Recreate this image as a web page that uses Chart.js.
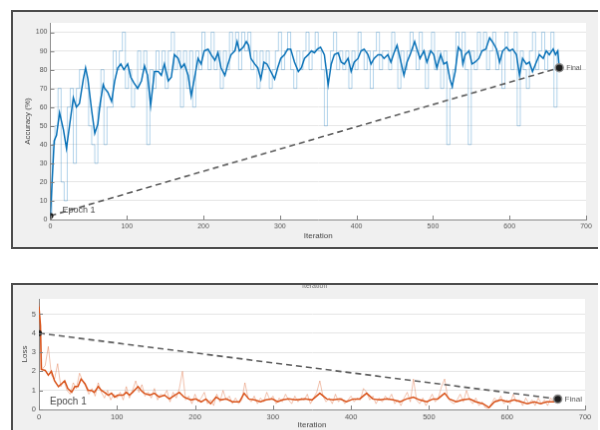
<!DOCTYPE html>
<html>
<head>
<meta charset="utf-8">
<script src="https://cdn.jsdelivr.net/npm/chart.js@4.4.0/dist/chart.umd.min.js"></script>
<style>
  html, body { margin: 0; padding: 0; background: #fff; width: 600px; height: 430px; overflow: hidden; }
  canvas { position: absolute; background: #f0f0f0; border-style: solid; border-color: #4d4d4d; }
  #accChart { left: 11px; top: 10px; border-width: 2px 0 2px 2px; }
  #lossChart { left: 11px; top: 283px; border-width: 2px 0 0 2px; }
</style>
</head>
<body>
<canvas id="accChart" width="587" height="239"></canvas>
<canvas id="lossChart" width="587" height="160"></canvas>
<script>
const FONT = "'Liberation Sans', Arial, sans-serif";

// raw mini-batch values, one every rawStep iterations
const rawStep = 4;
const iterTicks = [0, 100, 200, 300, 400, 500, 600, 700];
const endIters = [0, 665];

// accuracy (%)
const accRaw = [
  2, 40, 50, 70, 20, 10, 60, 70, 30, 70,
  80, 80, 70, 50, 40, 30, 60, 80, 40, 60,
  60, 90, 80, 90, 100, 70, 80, 60, 70, 90,
  80, 90, 40, 80, 70, 90, 80, 90, 70, 90,
  100, 80, 90, 60, 90, 70, 90, 60, 90, 80,
  100, 90, 80, 100, 80, 90, 70, 90, 80, 100,
  90, 100, 80, 100, 90, 100, 80, 90, 70, 90,
  80, 90, 70, 80, 90, 100, 80, 90, 100, 80,
  70, 90, 80, 90, 100, 80, 90, 100, 90, 80,
  50, 80, 90, 100, 80, 90, 80, 90, 70, 90,
  80, 100, 90, 80, 90, 70, 90, 100, 80, 90,
  90, 80, 100, 90, 70, 90, 80, 90, 100, 90,
  80, 100, 90, 70, 90, 100, 80, 90, 70, 90,
  40, 70, 80, 100, 90, 100, 80, 40, 90, 80,
  100, 90, 100, 80, 90, 100, 80, 90, 70, 100,
  90, 80, 100, 50, 90, 80, 70, 90, 100, 80,
  90, 100, 80, 90, 100, 60, 90
];
const accSmoothIter = [
  0, 5, 8, 12, 17, 21, 25, 30, 34, 38, 43, 46, 49, 54, 58, 62, 65, 69, 71, 75,
  80, 84, 88, 92, 96, 101, 105, 109, 114, 119, 123, 127, 131, 136, 141, 145, 149, 154, 158, 162,
  167, 171, 175, 180, 184, 188, 193, 197, 201, 206, 210, 215, 219, 223, 228, 232, 236, 241, 244, 247,
  252, 256, 259, 262, 267, 271, 275, 279, 283, 288, 293, 297, 301, 306, 310, 314, 319, 324, 328, 332,
  337, 341, 345, 349, 353, 358, 363, 367, 371, 376, 380, 384, 389, 393, 397, 402, 406, 410, 415, 419,
  423, 428, 432, 436, 441, 445, 449, 453, 457, 462, 466, 470, 476, 479, 483, 488, 492, 497, 501, 505,
  510, 514, 518, 522, 525, 529, 533, 537, 539, 542, 547, 551, 555, 560, 564, 569, 574, 579, 583, 587,
  591, 596, 600, 604, 609, 613, 617, 622, 626, 630, 635, 639, 644, 648, 652, 657, 660, 663, 665
];
const accSmooth = [
  2, 42, 45, 57, 48, 38, 50, 65, 60, 62, 75, 81, 75, 58, 46, 51, 62, 72, 70, 68,
  63, 74, 81, 83, 80, 83, 76, 73, 70, 74, 82, 77, 61, 79, 79, 77, 83, 74, 76, 88,
  86, 81, 83, 77, 66, 75, 86, 83, 90, 91, 88, 85, 89, 81, 77, 83, 88, 90, 95, 90,
  92, 95, 93, 86, 83, 81, 75, 84, 83, 79, 75, 81, 86, 88, 91, 91, 84, 79, 81, 86,
  88, 90, 89, 91, 92, 88, 72, 83, 88, 89, 84, 83, 86, 79, 84, 86, 90, 91, 88, 83,
  86, 88, 88, 86, 88, 84, 89, 93, 86, 77, 84, 88, 95, 91, 86, 90, 84, 90, 88, 81,
  88, 83, 84, 75, 71, 79, 92, 90, 83, 88, 90, 83, 84, 86, 90, 91, 97, 94, 91, 84,
  90, 92, 90, 91, 88, 77, 86, 83, 84, 79, 84, 88, 86, 90, 88, 91, 88, 90, 81
];
const accEnds = [2, 81];
const accTicks = [0, 10, 20, 30, 40, 50, 60, 70, 80, 90, 100];

// loss
const lossRaw = [
  5.6, 2.1, 2.3, 3.3, 1.8, 1.6, 2.4, 1.2, 1.5, 1.0,
  0.8, 1.4, 1.1, 1.9, 1.5, 1.2, 0.8, 1.1, 0.7, 1.4,
  0.9, 0.6, 1.0, 0.5, 0.8, 0.6, 0.9, 0.5, 1.2, 0.6,
  1.0, 1.5, 0.9, 1.3, 0.7, 0.9, 0.6, 1.1, 0.5, 0.8,
  0.7, 1.0, 0.4, 0.9, 0.6, 1.1, 2.0, 0.5, 0.7, 0.3,
  0.8, 0.4, 0.6, 0.9, 0.3, 0.5, 0.2, 0.8, 0.4, 1.0,
  0.5, 0.7, 0.3, 0.6, 0.3, 0.5, 1.4, 0.6, 0.4, 0.7,
  0.3, 0.6, 0.4, 0.9, 0.5, 0.7, 0.3, 0.6, 0.4, 0.8,
  0.5, 0.3, 0.7, 0.4, 0.6, 0.5, 0.8, 0.3, 0.6, 0.9,
  1.5, 0.7, 0.4, 0.6, 0.3, 0.8, 0.4, 0.6, 0.3, 0.5,
  0.7, 0.4, 0.6, 0.5, 1.1, 0.9, 0.5, 0.7, 0.3, 0.6,
  0.4, 0.7, 0.5, 0.8, 0.3, 0.5, 0.2, 0.6, 0.9, 0.4,
  1.6, 0.5, 0.3, 0.6, 0.2, 0.5, 0.8, 0.4, 0.6, 1.2,
  1.6, 0.6, 0.4, 0.3, 0.5, 0.8, 0.4, 1.0, 0.5, 0.3,
  0.6, 0.2, 0.4, 0.1, 0.05, 0.3, 0.6, 0.4, 0.7, 0.3,
  0.5, 0.3, 0.8, 0.4, 0.5, 0.2, 0.6, 0.3, 0.5, 0.2,
  0.6, 0.3, 0.5, 0.2, 0.6, 0.4, 0.5
];
const lossSmoothIter = [
  0, 2, 3, 8, 12, 16, 20, 25, 29, 33, 37, 42, 46, 50, 54, 59, 63, 67, 71, 76,
  80, 84, 89, 93, 97, 101, 108, 112, 116, 120, 127, 131, 135, 142, 148, 154, 161, 167, 174, 180,
  186, 195, 201, 208, 214, 220, 227, 233, 240, 248, 257, 263, 269, 276, 284, 291, 299, 306, 312, 320,
  329, 341, 350, 360, 369, 377, 386, 394, 403, 411, 420, 428, 437, 446, 454, 463, 471, 480, 488, 497,
  505, 511, 520, 526, 535, 543, 552, 560, 569, 577, 584, 592, 601, 609, 618, 626, 635, 643, 651, 660, 665
];
const lossSmooth = [
  5.4, 4.4, 2.1, 2.05, 1.8, 2.0, 1.5, 1.2, 1.35, 1.5, 1.1, 0.9, 1.2, 1.2, 1.6, 1.35, 1.0, 1.0, 0.9, 1.2,
  1.0, 0.9, 0.75, 0.85, 0.65, 0.75, 0.75, 0.9, 0.75, 0.9, 1.2, 1.0, 0.85, 0.75, 0.85, 0.65, 0.75, 0.55, 0.75, 0.9,
  0.65, 0.5, 0.55, 0.4, 0.55, 0.3, 0.65, 0.5, 0.55, 0.4, 0.4, 0.85, 0.55, 0.5, 0.4, 0.5, 0.55, 0.4, 0.5, 0.55,
  0.5, 0.55, 0.5, 0.85, 0.55, 0.5, 0.55, 0.4, 0.55, 0.55, 0.85, 0.55, 0.5, 0.55, 0.5, 0.4, 0.55, 0.65, 0.5, 0.4,
  0.55, 0.55, 0.85, 0.55, 0.4, 0.5, 0.55, 0.4, 0.3, 0.1, 0.4, 0.5, 0.4, 0.5, 0.4, 0.3, 0.4, 0.3, 0.4, 0.4, 0.55
];
const lossEnds = [4.0, 0.55];
const lossTicks = [0, 1, 2, 3, 4, 5];

// white plot area, inward tick marks and the text notes
const panelPlugin = {
  id: 'panel',
  beforeDraw(chart) {
    const { ctx, chartArea: a } = chart;
    ctx.save();
    ctx.fillStyle = '#ffffff';
    ctx.fillRect(a.left, a.top, a.right - a.left, a.bottom - a.top);
    ctx.restore();
  },
  afterDraw(chart, args, opts) {
    const { ctx, chartArea: a, scales: { x, y } } = chart;
    ctx.save();
    ctx.strokeStyle = '#808080';
    ctx.lineWidth = 1;
    ctx.beginPath();
    x.ticks.forEach(t => {
      const px = Math.round(x.getPixelForValue(t.value)) + 0.5;
      ctx.moveTo(px, a.bottom);
      ctx.lineTo(px, a.bottom - 4);
    });
    y.ticks.forEach(t => {
      const py = Math.round(y.getPixelForValue(t.value)) + 0.5;
      ctx.moveTo(a.left, py);
      ctx.lineTo(a.left + 4, py);
    });
    ctx.stroke();

    const ends = chart.data.datasets[2].data;
    const last = ends[ends.length - 1];
    ctx.fillStyle = '#4a4a4a';
    ctx.textBaseline = 'bottom';
    ctx.font = opts.epochSize + 'px ' + FONT;
    ctx.fillText('Epoch 1', x.getPixelForValue(0) + opts.epochDx, a.bottom - opts.epochDy);
    ctx.fillStyle = '#555';
    ctx.textBaseline = 'middle';
    ctx.font = opts.finalSize + 'px ' + FONT;
    ctx.fillText('Final', x.getPixelForValue(last.x) + 7, y.getPixelForValue(last.y));
    if (opts.topNote) {
      ctx.fillStyle = '#777';
      ctx.font = '7px ' + FONT;
      ctx.fillText('Iteration', 290, 1);
    }
    ctx.restore();
  }
};

function makeChart(id, o) {
  const axisTitle = (text, size, pad) => ({
    display: true, text: text, color: '#444', padding: pad,
    font: { family: FONT, size: size }
  });
  return new Chart(document.getElementById(id), {
    type: 'line',
    data: {
      datasets: [
        {
          data: o.raw.map((v, i) => ({ x: i * rawStep, y: v })),
          borderColor: o.light, borderWidth: 1, pointRadius: 0, order: 3,
          stepped: o.rawStepped
        },
        {
          data: o.smoothIter.map((it, i) => ({ x: it, y: o.smooth[i] })),
          borderColor: o.dark, borderWidth: 1.5, pointRadius: 0, order: 2
        },
        {
          data: endIters.map((it, i) => ({ x: it, y: o.ends[i] })),
          borderColor: '#5c5c5c', borderWidth: 1.6, borderDash: [6, 4],
          pointRadius: [3, 4], pointBackgroundColor: '#1e1e1e',
          pointBorderColor: ['#1e1e1e', '#8c8c8c'], pointBorderWidth: [0, 1.5],
          order: 1
        }
      ]
    },
    options: {
      responsive: false,
      animation: false,
      events: [],
      layout: { padding: o.pad },
      plugins: {
        legend: { display: false },
        tooltip: { enabled: false },
        panel: o.notes
      },
      scales: {
        x: {
          type: 'linear', min: 0, max: 700,
          afterBuildTicks: s => { s.ticks = iterTicks.map(v => ({ value: v })); },
          afterFit: s => { s.height = o.xH; },
          grid: { display: false, drawTicks: false },
          border: { color: '#8a8a8a' },
          ticks: { font: { family: FONT, size: o.tick }, color: '#555', padding: 3, maxRotation: 0 },
          title: axisTitle('Iteration', 8, { top: 0, bottom: o.xTitlePad })
        },
        y: {
          type: 'linear', min: 0, max: o.yMax,
          afterBuildTicks: s => { s.ticks = o.yTicks.map(v => ({ value: v })); },
          afterFit: s => { s.width = o.yW; },
          grid: { color: '#e6e6e6', drawTicks: false },
          border: { color: '#8a8a8a' },
          ticks: { font: { family: FONT, size: o.tick }, color: '#555', padding: 3 },
          title: axisTitle(o.yTitle, 8, { top: o.yTitlePad, bottom: 0 })
        }
      }
    },
    plugins: [panelPlugin]
  });
}

makeChart('accChart', {
  raw: accRaw, smoothIter: accSmoothIter, smooth: accSmooth, ends: accEnds,
  light: 'rgba(0, 114, 189, 0.3)', dark: '#0a72b8', rawStepped: 'middle',
  yMax: 105, yTicks: accTicks, yTitle: 'Accuracy (%)',
  pad: { top: 11, right: 12, bottom: 0, left: 0 },
  xH: 28, yW: 37.5, tick: 7, xTitlePad: 6, yTitlePad: 10,
  notes: { epochSize: 9, epochDx: 12, epochDy: 5, finalSize: 7 }
});

makeChart('lossChart', {
  raw: lossRaw, smoothIter: lossSmoothIter, smooth: lossSmooth, ends: lossEnds,
  light: 'rgba(217, 83, 25, 0.35)', dark: '#d9531a', rawStepped: false,
  yMax: 5.8, yTicks: lossTicks, yTitle: 'Loss',
  pad: { top: 14, right: 13, bottom: 0, left: 0 },
  xH: 34, yW: 26, tick: 7.5, xTitlePad: 13, yTitlePad: 7,
  notes: { epochSize: 10, epochDx: 11, epochDy: 3, finalSize: 8, topNote: true }
});
</script>
</body>
</html>
